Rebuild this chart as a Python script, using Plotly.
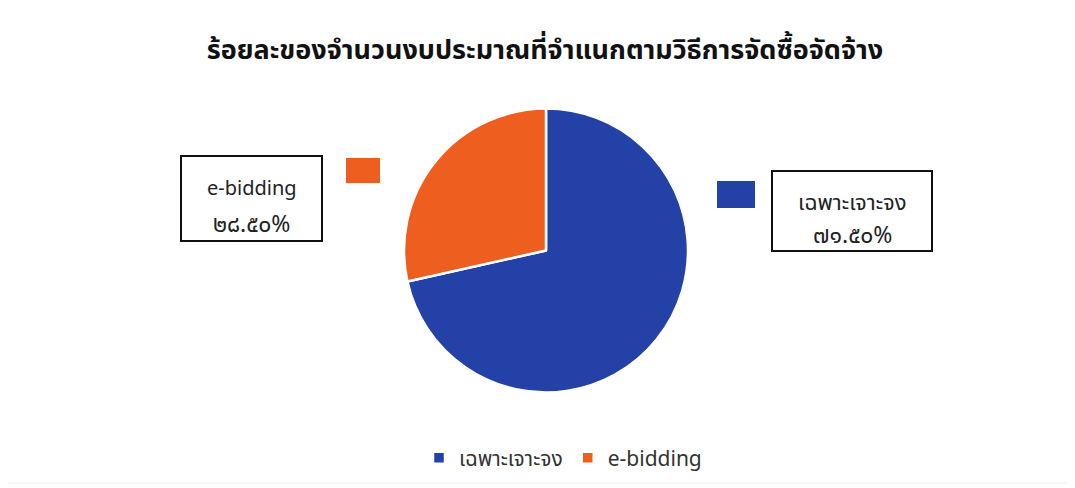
import plotly.graph_objects as go

labels = ["เฉพาะเจาะจง", "e-bidding"]
values = [71.50, 28.50]
colors = ["#2341A6", "#EE5F1F"]
title_text = "ร้อยละของจำนวนงบประมาณที่จำแนกตามวิธีการจัดซื้อจัดจ้าง"

THAI_DIGITS = str.maketrans("0123456789", "๐๑๒๓๔๕๖๗๘๙")


def thai_pct(v):
    return f"{v:.2f}%".translate(THAI_DIGITS)


W, H = 1075, 488
OFF = 8  # page body margin


def px(x):
    return (x - OFF) / W


def py(y):
    return 1 - (y - OFF) / H


FONT = "Noto Sans, Noto Sans Thai, sans-serif"

fig = go.Figure()
fig.add_trace(go.Pie(
    labels=labels,
    values=values,
    sort=False,
    direction="clockwise",
    rotation=0,
    marker=dict(colors=colors, line=dict(color="white", width=2.5)),
    textinfo="none",
    hoverinfo="label+percent",
    domain=dict(x=[px(404), px(688)], y=[py(393), py(108)]),
))

# label boxes (position in px of reference layout)
boxes = {
    "e-bidding": dict(x0=181, x1=322, y0=156, y1=241, key=(346, 158, 380, 183)),
    "เฉพาะเจาะจง": dict(x0=772, x1=932, y0=171, y1=251, key=(717, 181, 755, 208)),
}
shapes = []
annotations = []
for lab, val, col in zip(labels, values, colors):
    b = boxes[lab]
    shapes.append(dict(type="rect", xref="paper", yref="paper",
                       x0=px(b["x0"]), x1=px(b["x1"]),
                       y0=py(b["y1"]), y1=py(b["y0"]),
                       line=dict(color="#111111", width=2), fillcolor="white"))
    kx0, ky0, kx1, ky1 = b["key"]
    shapes.append(dict(type="rect", xref="paper", yref="paper",
                       x0=px(kx0), x1=px(kx1), y0=py(ky1), y1=py(ky0),
                       line=dict(width=0), fillcolor=col))
    cx = px((b["x0"] + b["x1"]) / 2)
    h = b["y1"] - b["y0"]
    name_size = 20 if lab.isascii() else 22
    annotations.append(dict(x=cx, y=py(b["y0"] + h * 0.37), xref="paper", yref="paper",
                            xanchor="center", yanchor="middle",
                            text=lab, showarrow=False,
                            font=dict(family=FONT, size=name_size, color="#222222")))
    annotations.append(dict(x=cx, y=py(b["y0"] + h * 0.79), xref="paper", yref="paper",
                            xanchor="center", yanchor="middle",
                            text=thai_pct(val), showarrow=False,
                            font=dict(family=FONT, size=23, color="#222222")))

# faint outer frame
shapes.append(dict(type="rect", xref="paper", yref="paper",
                   x0=px(7), x1=px(1071), y0=py(483), y1=py(5),
                   line=dict(color="#eeeeee", width=1), layer="below"))

fig.update_layout(
    width=W, height=H,
    margin=dict(l=0, r=0, t=0, b=0),
    paper_bgcolor="white",
    plot_bgcolor="white",
    title=dict(text=f"<b>{title_text}</b>", x=px(545), xanchor="center",
               y=py(50), yanchor="middle",
               font=dict(family=FONT, size=27, color="#111111")),
    showlegend=True,
    legend=dict(orientation="h", x=px(563), xanchor="center", y=py(458), yanchor="middle",
                font=dict(family=FONT, size=21, color="#333333"),
                itemwidth=30, tracegroupgap=0),
    shapes=shapes,
    annotations=annotations,
)

fig.write_html("out.html")
